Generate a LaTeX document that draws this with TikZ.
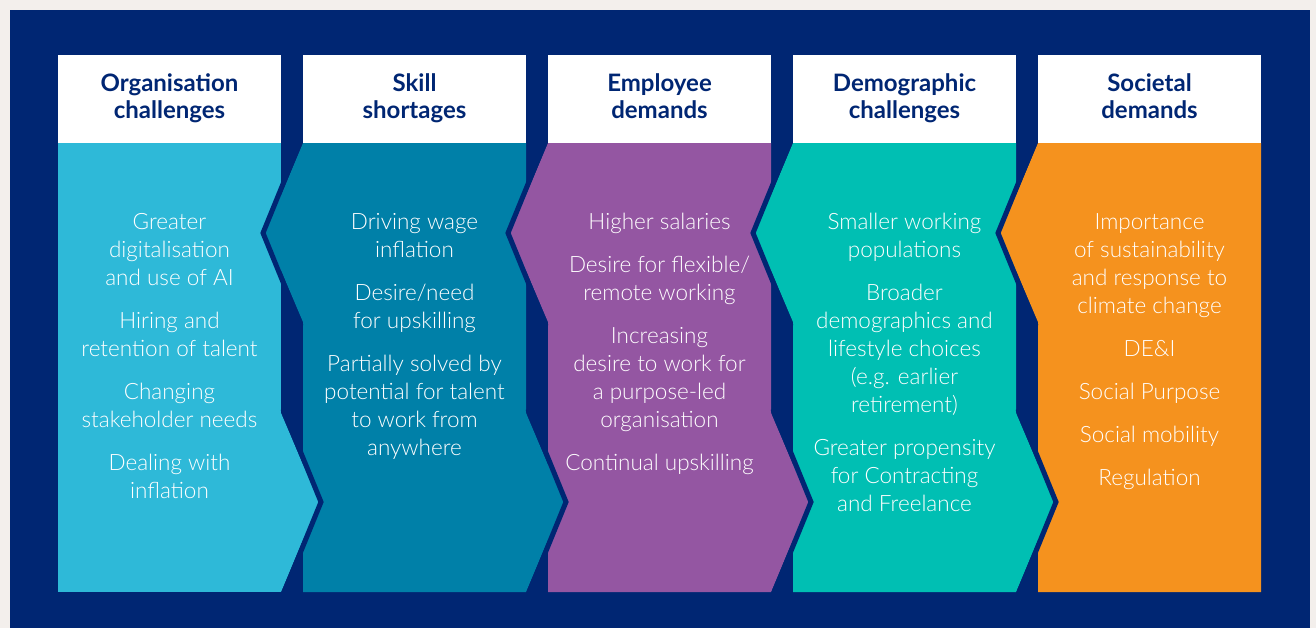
\documentclass[tikz,border=0pt]{standalone}
\usepackage{fontspec}
\setmainfont{Lato Light}[BoldFont={Lato Bold}]
\definecolor{pagegrey}{RGB}{243,239,236}
\definecolor{navyblue}{RGB}{0,38,115}
\definecolor{orgcyan}{RGB}{46,185,216}
\definecolor{skillteal}{RGB}{0,128,168}
\definecolor{emppurple}{RGB}{148,86,162}
\definecolor{demogreen}{RGB}{0,191,179}
\definecolor{socorange}{RGB}{245,146,30}
\tikzset{
  hdbox/.style={fill=white, text=navyblue, minimum width=223pt, minimum height=88pt,
    inner sep=0pt, align=center, font=\fontsize{24}{27}\selectfont\bfseries},
  txtcol/.style={anchor=north, text=white, inner sep=0pt, align=center,
    font=\fontsize{22.5}{28}\selectfont},
  edgeline/.style={draw=navyblue, line width=5pt}
}
\newcommand{\hdstrut}{\rule[-6pt]{0pt}{21pt}}
\begin{document}
\begin{tikzpicture}[x=1pt, y=-1pt]
  % background
  \fill[pagegrey] (0,0) rectangle (1316,628);
  \fill[navyblue] (10,10) rectangle (1310,628);
  % column bodies
  \fill[orgcyan] (58,143) -- (281,143) -- (281,592) -- (58,592) -- cycle;
  \fill[skillteal] (303,143) -- (526,143) -- (526,592) -- (303,592) -- (303,322) -- (265,233) -- cycle;
  \fill[emppurple] (548,143) -- (771,143) -- (771,592) -- (548,592) -- (548,322) -- (510,233) -- cycle;
  \fill[demogreen] (793,143) -- (1016,143) -- (1016,592) -- (793,592) -- (793,322) -- (755,233) -- cycle;
  \fill[socorange] (1038,143) -- (1261,143) -- (1261,592) -- (1038,592) -- (1038,322) -- (1000,233) -- cycle;
  % arrow tips at the bottom
  \fill[orgcyan] (281,413) -- (319,502) -- (281,592) -- cycle;
  \fill[skillteal] (526,413) -- (564,502) -- (526,592) -- cycle;
  \fill[emppurple] (771,413) -- (809,502) -- (771,592) -- cycle;
  \fill[demogreen] (1016,413) -- (1054,502) -- (1016,592) -- cycle;
  % navy edges of the chevrons
  \draw[edgeline] (301,140) -- (263,233) -- (301,326);
  \draw[edgeline] (546,140) -- (508,233) -- (546,326);
  \draw[edgeline] (791,140) -- (753,233) -- (791,326);
  \draw[edgeline] (1036,140) -- (998,233) -- (1036,326);
  \draw[edgeline] (283,409) -- (321,502) -- (283,595);
  \draw[edgeline] (528,409) -- (566,502) -- (528,595);
  \draw[edgeline] (773,409) -- (811,502) -- (773,595);
  \draw[edgeline] (1018,409) -- (1056,502) -- (1018,595);
  %headers
  \node[hdbox] at (169.5,99) (hdorg) {\hdstrut Organisation\\\hdstrut challenges};
  \node[hdbox] at (414.5,99) (hdskill) {\hdstrut Skill\\\hdstrut shortages};
  \node[hdbox] at (659.5,99) (hdemp) {\hdstrut Employee\\\hdstrut demands};
  \node[hdbox] at (904.5,99) (hddemo) {\hdstrut Demographic\\\hdstrut challenges};
  \node[hdbox] at (1149.5,99) (hdsoc) {\hdstrut Societal\\\hdstrut demands};
  %column texts
  \node[txtcol] at (169.5,213) (txtorg) {Greater\\digitalisation\\and use of AI\\[15pt]
    Hiring and\\retention of talent\\[15pt]Changing\\stakeholder needs\\[15pt]
    Dealing with\\inflation};
  \node[txtcol] at (414.5,213) (txtskill) {Driving wage\\inflation\\[15pt]Desire/need\\for upskilling\\[15pt]
    Partially solved by\\potential for talent\\to work from\\anywhere};
  \node[txtcol] at (659.5,213) (txtemp) {Higher salaries\\[15pt]Desire for flexible/\\remote working\\[15pt]
    Increasing\\desire to work for\\a purpose-led\\organisation\\[15pt]Continual upskilling};
  \node[txtcol] at (904.5,213) (txtdemo) {Smaller working\\populations\\[15pt]Broader\\demographics and\\
    lifestyle choices\\(e.g. earlier\\retirement)\\[15pt]Greater propensity\\for Contracting\\and Freelance};
  \node[txtcol] at (1149.5,213) (txtsoc) {Importance\\of sustainability\\and response to\\climate change\\[15pt]
    DE\&I\\[15pt]Social Purpose\\[15pt]Social mobility\\[15pt]Regulation};
\end{tikzpicture}
\end{document}
